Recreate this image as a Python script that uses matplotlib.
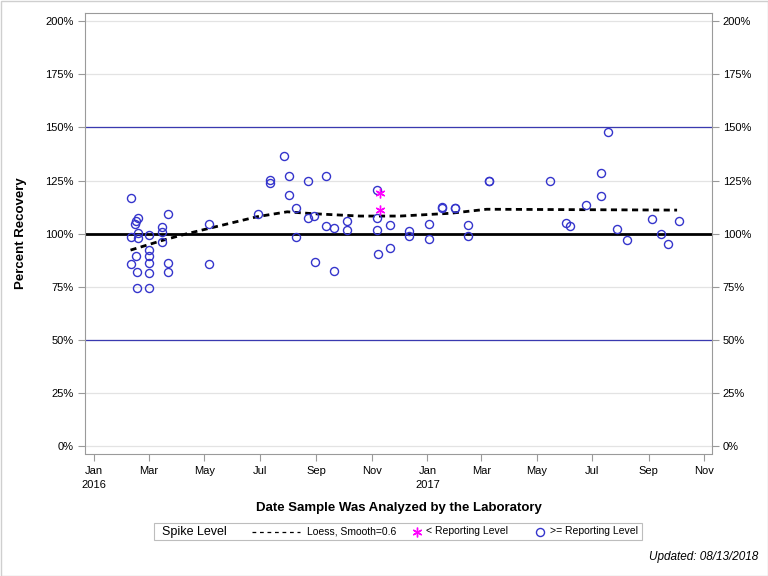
import numpy as np
import pandas as pd
import matplotlib
matplotlib.use("Agg")
import matplotlib.pyplot as plt
from matplotlib.lines import Line2D
from matplotlib.patches import Rectangle

plt.rcParams['font.family'] = ['Liberation Sans', 'DejaVu Sans']

# samples at or above the reporting level
ge_dates = ['2016-02-10', '2016-02-10', '2016-02-10', '2016-02-15', '2016-02-16', '2016-02-16',
            '2016-02-17', '2016-02-17', '2016-02-18', '2016-02-18', '2016-02-18',
            '2016-03-01', '2016-03-01', '2016-03-01', '2016-03-01', '2016-03-01', '2016-03-01',
            '2016-03-16', '2016-03-16', '2016-03-16', '2016-03-22', '2016-03-22', '2016-03-22',
            '2016-05-06', '2016-05-06', '2016-06-29', '2016-07-12', '2016-07-12',
            '2016-07-28', '2016-08-02', '2016-08-02', '2016-08-10', '2016-08-10',
            '2016-08-23', '2016-08-23', '2016-08-29', '2016-08-30', '2016-09-12', '2016-09-12',
            '2016-09-20', '2016-09-20', '2016-10-05', '2016-10-05',
            '2016-11-07', '2016-11-07', '2016-11-07', '2016-11-08', '2016-11-21', '2016-11-21',
            '2016-12-12', '2016-12-12', '2017-01-03', '2017-01-03',
            '2017-01-17', '2017-01-17', '2017-01-31', '2017-01-31', '2017-02-15', '2017-02-15',
            '2017-03-09', '2017-03-09', '2017-05-16', '2017-06-02', '2017-06-06', '2017-06-24',
            '2017-07-10', '2017-07-11', '2017-07-18', '2017-07-28', '2017-08-08',
            '2017-09-05', '2017-09-14', '2017-09-22', '2017-10-04']
ge_values = [116.6, 98.3, 85.8, 104.6, 89.4, 106.0,
             74.5, 81.9, 107.2, 100.5, 97.8,
             99.2, 92.3, 89.5, 86.1, 81.4, 74.5,
             103.1, 100.7, 96.0, 109.3, 86.1, 81.9,
             104.4, 85.6, 109.3, 125.2, 123.7,
             136.5, 127.3, 118.2, 112.1, 98.3,
             124.6, 107.2, 108.2, 86.6, 127.1, 103.5,
             102.7, 82.5, 105.8, 101.6,
             120.5, 107.5, 101.7, 90.3, 103.9, 93.1,
             101.3, 98.8, 104.4, 97.4,
             112.1, 112.4, 111.9, 112.2, 103.9, 98.8,
             124.6, 124.9, 124.8, 104.9, 103.5, 113.4,
             117.6, 128.4, 147.7, 102.1, 97.0,
             106.8, 99.7, 95.0, 105.8]

# samples below the reporting level
lt_dates = ['2016-11-10', '2016-11-10']
lt_values = [119.1, 111.2]

# loess fit, smooth=0.6
loess_dates = ['2016-02-10', '2016-03-17', '2016-04-11', '2016-05-06', '2016-06-28', '2016-07-31',
               '2016-08-29', '2016-10-19', '2016-12-02', '2017-01-26', '2017-03-07', '2017-10-02']
loess_values = [92.3, 97.0, 99.9, 102.5, 108.0, 110.3, 109.4, 108.3, 108.3, 109.6, 111.5, 111.1]

ge_x = pd.to_datetime(ge_dates)
lt_x = pd.to_datetime(lt_dates)
loess_x = pd.to_datetime(loess_dates)

fig = plt.figure(figsize=(7.68, 5.76), dpi=100)
ax = fig.add_axes([85 / 768, 1 - 453.5 / 576, (711.7 - 85) / 768, (453.5 - 13.3) / 576])

ax.set_ylim(-3.3, 203.6)
ax.set_xlim(pd.Timestamp('2015-12-22'), pd.Timestamp('2017-11-09'))

yt = np.arange(0, 201, 25)
ax.set_yticks(yt)
ax.set_yticklabels([f'{v}%' for v in yt])
for v in yt:
    ax.axhline(v, color='#e3e3e3', lw=0.9, zorder=0)

ax.axhline(150, color='#3a3ab0', lw=0.9, zorder=1)
ax.axhline(50, color='#3a3ab0', lw=0.9, zorder=1)
ax.axhline(100, color='black', lw=2, zorder=1)

ax.plot(loess_x, loess_values, color='black', lw=2, ls=(0, (2.2, 1.6)), zorder=3)
ax.plot(ge_x, ge_values, ls='none', marker='o', ms=5.8, mfc='none', mec='#3535cc', mew=1, zorder=4)
ax.plot(lt_x, lt_values, ls='none', marker=(6, 2, 0), ms=7, mec='#ff00ff', mew=1, zorder=4)

xt = pd.date_range('2016-01-01', '2017-11-01', freq='2MS')
ax.set_xticks(xt)
ax.set_xticklabels([d.strftime('%b') + ('\n' + str(d.year) if d.month == 1 else '') for d in xt])

for s in ax.spines.values():
    s.set_color('#9a9a9a')
ax.tick_params(axis='both', colors='#9a9a9a', labelcolor='black', labelsize=8, length=5, width=0.8)
ax.tick_params(axis='y', right=True, labelright=True, pad=3)
ax.tick_params(axis='x', pad=4)
for t in ax.get_xticklabels():
    t.set_linespacing(1.5)

fig.text(20.7 / 768, 1 - 233 / 576, 'Percent Recovery', rotation=90, ha='center', va='center',
         fontsize=9.5, fontweight='bold')
fig.text(399 / 768, 1 - 508 / 576, 'Date Sample Was Analyzed by the Laboratory', ha='center', va='center',
         fontsize=9.5, fontweight='bold')

# legend box
fig.add_artist(Rectangle((154 / 768, 1 - 540 / 576), (641.7 - 154) / 768, 17 / 576,
                         transform=fig.transFigure, fill=False, ec='#bdbdbd', lw=0.8))
ly = 1 - 531.5 / 576
fig.text(161.7 / 768, ly, 'Spike Level', ha='left', va='center', fontsize=9)
fig.add_artist(Line2D([251.7 / 768, 300 / 768], [ly, ly], transform=fig.transFigure,
                      color='black', lw=0.9, ls=(0, (3, 3))))
fig.text(306.7 / 768, ly, 'Loess, Smooth=0.6', ha='left', va='center', fontsize=7.5)
fig.add_artist(Line2D([416.7 / 768], [ly], transform=fig.transFigure, ls='none',
                      marker=(6, 2, 0), ms=7, mec='#ff00ff', mew=1))
fig.text(426 / 768, ly, '< Reporting Level', ha='left', va='center', fontsize=7.5)
fig.add_artist(Line2D([540 / 768], [ly], transform=fig.transFigure, ls='none',
                      marker='o', ms=5.8, mfc='none', mec='#3535cc', mew=1))
fig.text(550 / 768, ly, '>= Reporting Level', ha='left', va='center', fontsize=7.5)

fig.text(758 / 768, 1 - 557 / 576, 'Updated: 08/13/2018', ha='right', va='center',
         fontsize=8.5, style='italic')

# outer border
fig.add_artist(Rectangle((0.5 / 768, 0.5 / 576), 767 / 768, 575 / 576, transform=fig.transFigure,
                         fill=False, ec='#cfcfcf', lw=1))

fig.savefig('out.png', dpi=100)
